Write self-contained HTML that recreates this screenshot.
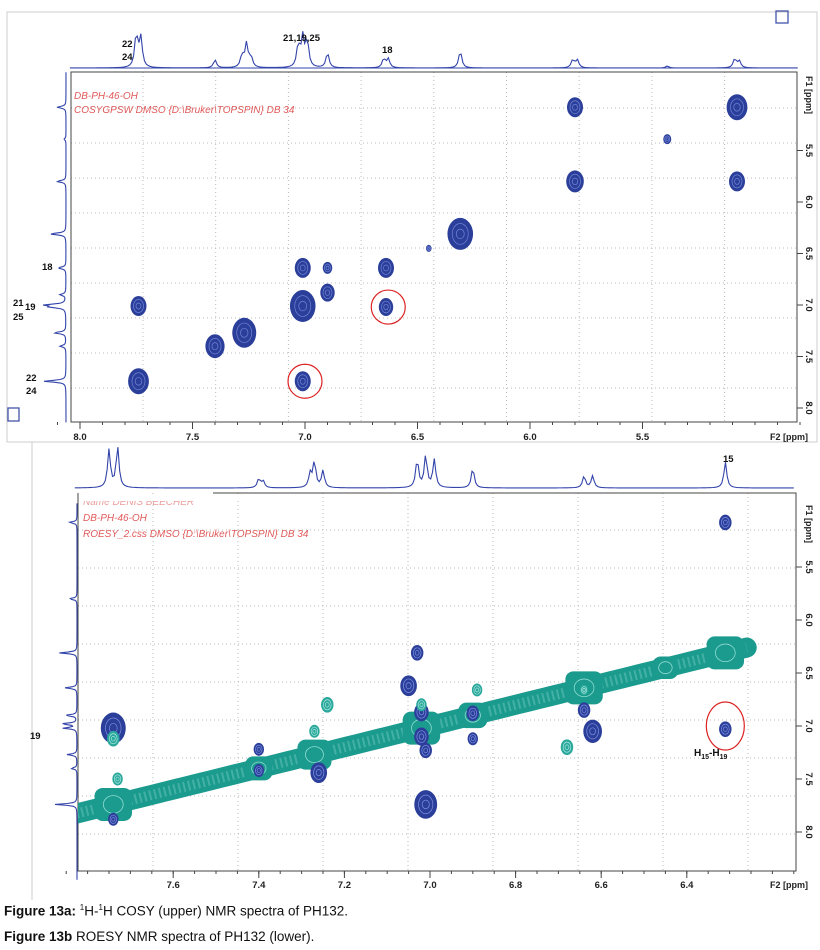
<!DOCTYPE html>
<html><head><meta charset="utf-8"><style>
body{margin:0;background:#fff;width:820px;height:950px;overflow:hidden;font-family:"Liberation Sans",sans-serif}
svg{position:absolute;left:0;top:0}
.cap{position:absolute;left:4px;font-size:13.5px;color:#111;white-space:nowrap}
</style></head><body>
<svg id="s" width="820" height="950" xmlns="http://www.w3.org/2000/svg">
<defs><clipPath id="rc"><rect x="78" y="493" width="718" height="378"/></clipPath></defs>
<rect x="7" y="12" width="810" height="430" fill="none" stroke="#ccc"/>
<line x1="32" y1="442" x2="32" y2="900" stroke="#ccc"/>
<rect x="776" y="11" width="12" height="12" fill="none" stroke="#4455aa" stroke-width="1.3"/>
<rect x="8" y="408" width="11" height="13" fill="none" stroke="#4455aa" stroke-width="1.3"/>
<g id="g"></g>
</svg>
<div class="cap" style="top:903px"><b>Figure 13a:</b> <sup style="font-size:8px">1</sup>H-<sup style="font-size:8px">1</sup>H COSY (upper) NMR spectra of PH132.</div>
<div class="cap" style="top:929px"><b>Figure 13b</b> ROESY NMR spectra of PH132 (lower).</div>
<script>
// ---- data ----
const cosyXTicks=[8.0,7.5,7.0,6.5,6.0,5.5];
const cosyYTicks=[5.5,6.0,6.5,7.0,7.5,8.0];
const cosyTopPpm=[7.75,7.73,7.40,7.28,7.26,7.24,7.03,7.01,6.99,6.90,6.65,6.63,6.31,5.81,5.79,5.39,5.09,5.07];
const cosyTopH=[33,30,8,12,24,10,22,30,26,15,9,9,17,8,8,2,9,7];
const cosyLeftPpm=[5.08,5.39,5.80,6.31,6.64,6.90,7.00,7.02,7.27,7.40,7.74];
const cosyLeftH=[9,2,9,16,8,6,20,14,12,6,22];
const cosyPeakF2=[5.80,5.08,5.39,5.80,5.08,6.31,6.45,7.01,6.90,6.64,7.01,6.90,6.64,7.74,7.40,7.27,7.74,7.01];
const cosyPeakF1=[5.08,5.08,5.39,5.80,5.80,6.31,6.45,6.64,6.64,6.64,7.01,6.88,7.02,7.01,7.40,7.27,7.74,7.74];
const cosyPeakSize=[1.0,1.3,0.5,1.1,1.0,1.6,0.35,1.0,0.6,1.0,1.6,0.9,0.9,1.0,1.2,1.5,1.3,1.0];
const roeXTicks=[7.6,7.4,7.2,7.0,6.8,6.6,6.4];
const roeYTicks=[5.5,6.0,6.5,7.0,7.5,8.0];
const roeTopPpm=[7.75,7.73,7.40,7.39,7.28,7.27,7.25,7.03,7.01,6.99,6.90,6.64,6.62,6.31];
const roeTopH=[38,41,9,7,14,26,17,28,32,28,20,12,12,26];
const roeLeftPpm=[5.08,5.80,6.31,6.64,6.90,6.98,7.02,7.27,7.40,7.74];
const roeLeftH=[8,8,18,12,12,16,14,10,6,22];
const roeDiag=[7.74,7.40,7.27,7.02,6.90,6.64,6.45,6.31];
const roeDiagSize=[1.1,0.8,1.0,1.1,0.85,1.1,0.75,1.1];
const roeBlueF2=[6.31,7.03,7.05,7.74,6.62,6.31,7.01,7.40,7.40,7.26,7.02,7.02,7.01,6.90,6.90,6.64,7.74];
const roeBlueF1=[5.08,6.31,6.62,7.02,7.05,7.03,7.74,7.22,7.42,7.44,6.87,7.10,7.23,6.88,7.12,6.85,7.88];
const roeBlueSize=[0.6,0.6,0.8,1.2,0.9,0.6,1.1,0.5,0.5,0.8,0.7,0.7,0.6,0.6,0.5,0.6,0.5];
const roeTealF2=[7.24,6.68,7.74,7.73,6.89,7.02,6.64,7.27];
const roeTealF1=[6.80,7.20,7.12,7.50,6.66,6.80,6.66,7.05];
const roeTealSize=[0.6,0.6,0.6,0.5,0.5,0.5,0.4,0.5];

// ---- scales ----
const cx=p=>80+(8-p)*225, cy=p=>305+(p-7)*103;
const rx=p=>430+(7-p)*428, ry=p=>726+(p-7)*106;
const NS='http://www.w3.org/2000/svg', G=document.getElementById('g');
function el(t,a,name,parent){const e=document.createElementNS(NS,t);for(const k in a)e.setAttribute(k,a[k]);


(parent||G).appendChild(e);return e;}
function txt(x,y,s,sz,col,extra,name){const e=el('text',Object.assign({x:x,y:y,'font-size':sz,fill:col,'font-family':'Liberation Sans, sans-serif'},extra||{}),name);e.textContent=s;return e;}
function spec(ppms,hs,mapP,base,from,to,vertical,w,name){let d='';for(let i=0;i<=400;i++){const p=from+(to-from)*i/400;let h=0;
for(let k=0;k<ppms.length;k++){const q=(p-ppms[k])/w;h+=hs[k]/(1+q*q);}
const a=mapP(p),b=base-h;d+=(i?'L':'M')+(vertical?b+','+a:a+','+b);}
el('path',{d:d,fill:'none',stroke:'#3344aa','stroke-width':1.1},name);}
function blob(x,y,s,col,light,name,parent){el('ellipse',{cx:x,cy:y,rx:8*s,ry:10*s,fill:col},name,parent);
el('ellipse',{cx:x,cy:y,rx:5*s,ry:6.5*s,fill:'none',stroke:light,'stroke-width':0.7},name+'-contour',parent);
el('ellipse',{cx:x,cy:y,rx:2.5*s,ry:3*s,fill:'none',stroke:light,'stroke-width':0.7},name+'-contour-inner',parent);}

// ---- COSY ----
for(let x=143;x<797;x+=72.7)el('line',{x1:x,y1:72,x2:x,y2:422,stroke:'#bbb','stroke-dasharray':'1,3'},'cosy-grid-v');
for(let y=108;y<422;y+=35)el('line',{x1:71,y1:y,x2:797,y2:y,stroke:'#bbb','stroke-dasharray':'1,3'},'cosy-grid-h');
el('rect',{x:71,y:72,width:726,height:350,fill:'none',stroke:'#444','stroke-width':1},'cosy-plot-frame');
cosyXTicks.forEach(t=>{el('line',{x1:cx(t),y1:422,x2:cx(t),y2:429,stroke:'#444'},'cosy-x-tick');txt(cx(t),440,t.toFixed(1),9.5,'#222',{'text-anchor':'middle','font-weight':'bold'},'cosy-x-tick-label');});
for(let p=8.1;p>4.8;p-=0.1)el('line',{x1:cx(p),y1:422,x2:cx(p),y2:425,stroke:'#444'},'cosy-x-minor-tick');
cosyYTicks.forEach(t=>{el('line',{x1:797,y1:cy(t),x2:803,y2:cy(t),stroke:'#444'},'cosy-y-tick');txt(806,cy(t),t.toFixed(1),9.5,'#222',{transform:`rotate(90 806 ${cy(t)})`,'text-anchor':'middle','font-weight':'bold'},'cosy-y-tick-label');});
txt(806,95,'F1 [ppm]',9,'#222',{transform:'rotate(90 806 95)','text-anchor':'middle','font-weight':'bold'},'cosy-y-axis-title');
txt(770,440,'F2 [ppm]',9,'#222',{'font-weight':'bold'},'cosy-x-axis-title');
spec(cosyTopPpm,cosyTopH,cx,68,8.045,4.81,false,0.008,'cosy-top-1d-spectrum');
el('line',{x1:71,y1:68,x2:797,y2:68,stroke:'#3344aa'},'cosy-top-baseline');
spec(cosyLeftPpm,cosyLeftH,cy,66,4.74,8.14,true,0.01,'cosy-left-1d-spectrum');
txt(122,47,'22',9.5,'#111',{'font-weight':'bold'},'label-22');txt(122,60,'24',9.5,'#111',{'font-weight':'bold'},'label-24');
txt(283,41,'21,19,25',9.5,'#111',{'font-weight':'bold'},'label-21-19-25');txt(382,53,'18',9.5,'#111',{'font-weight':'bold'},'label-18');
txt(42,270,'18',9.5,'#111',{'font-weight':'bold'},'left-label-18');txt(13,306,'21',9.5,'#111',{'font-weight':'bold'},'left-label-21');
txt(25,310,'19',9.5,'#111',{'font-weight':'bold'},'left-label-19');txt(13,320,'25',9.5,'#111',{'font-weight':'bold'},'left-label-25');
txt(26,381,'22',9.5,'#111',{'font-weight':'bold'},'left-label-22');txt(26,394,'24',9.5,'#111',{'font-weight':'bold'},'left-label-24');
txt(74,99,'DB-PH-46-OH',10,'#e05a5a',{'font-style':'italic'},'cosy-sample-name');
txt(74,113,'COSYGPSW DMSO {D:\\Bruker\\TOPSPIN} DB 34',10,'#e05a5a',{'font-style':'italic'},'cosy-experiment-info');
cosyPeakF2.forEach((f2,i)=>blob(cx(f2),cy(cosyPeakF1[i]),cosyPeakSize[i],'#2b3f9a','#6f84d6','cosy-cross-peak'));
el('ellipse',{cx:cx(6.63),cy:cy(7.02),rx:17,ry:17,fill:'none',stroke:'#dd2222','stroke-width':1.2},'cosy-highlight-circle-1');
el('ellipse',{cx:cx(7.0),cy:cy(7.74),rx:17,ry:17,fill:'none',stroke:'#dd2222','stroke-width':1.2},'cosy-highlight-circle-2');

// ---- ROESY ----
for(let x=153;x<796;x+=85)el('line',{x1:x,y1:493,x2:x,y2:871,stroke:'#bbb','stroke-dasharray':'1,3'},'roesy-grid-v');
for(let y=530;y<871;y+=38)el('line',{x1:78,y1:y,x2:796,y2:y,stroke:'#bbb','stroke-dasharray':'1,3'},'roesy-grid-h');
el('path',{d:'M213,493H796V871H78V493',fill:'none',stroke:'#444'},'roesy-plot-frame');
roeXTicks.forEach(t=>{el('line',{x1:rx(t),y1:871,x2:rx(t),y2:878,stroke:'#444'},'roesy-x-tick');txt(rx(t),888,t.toFixed(1),9.5,'#222',{'text-anchor':'middle','font-weight':'bold'},'roesy-x-tick-label');});
for(let p=7.85;p>6.15;p-=0.05)el('line',{x1:rx(p),y1:871,x2:rx(p),y2:874,stroke:'#444'},'roesy-x-minor-tick');
roeYTicks.forEach(t=>{el('line',{x1:796,y1:ry(t),x2:802,y2:ry(t),stroke:'#444'},'roesy-y-tick');txt(806,ry(t),t.toFixed(1),9.5,'#222',{transform:`rotate(90 806 ${ry(t)})`,'text-anchor':'middle','font-weight':'bold'},'roesy-y-tick-label');});
txt(806,524,'F1 [ppm]',9,'#222',{transform:'rotate(90 806 524)','text-anchor':'middle','font-weight':'bold'},'roesy-y-axis-title');
txt(770,888,'F2 [ppm]',9,'#222',{'font-weight':'bold'},'roesy-x-axis-title');
spec(roeTopPpm,roeTopH,rx,488,7.83,6.15,false,0.004,'roesy-top-1d-spectrum');
spec(roeLeftPpm,roeLeftH,ry,77,4.9,8.45,true,0.008,'roesy-left-1d-spectrum');
txt(723,462,'15',9.5,'#111',{'font-weight':'bold'},'label-15');txt(30,739,'19',9.5,'#111',{'font-weight':'bold'},'left-label-19-roesy');
txt(83,505,'Name DENIS BEECHER',10,'#e05a5a',{'font-style':'italic',opacity:0.6},'roesy-name-cut');
el('rect',{x:80,y:495,width:200,height:6,fill:'#fff'},'roesy-text-mask');
txt(83,521,'DB-PH-46-OH',10,'#e05a5a',{'font-style':'italic'},'roesy-sample-name');
txt(83,537,'ROESY_2.css DMSO {D:\\Bruker\\TOPSPIN} DB 34',10,'#e05a5a',{'font-style':'italic'},'roesy-experiment-info');
const RG=el('g',{'clip-path':'url(#rc)'},'roesy-contour-layer');
let d='';for(let i=0;i<=60;i++){const p=7.86-(7.86-6.26)*i/60;d+=(i?'L':'M')+rx(p)+','+ry(p);}
el('path',{d:d,fill:'none',stroke:'#1b9a8e','stroke-width':20,'stroke-linecap':'round'},'roesy-diagonal-band',RG);
el('path',{d:d,fill:'none',stroke:'#5fc0b4','stroke-width':10,'stroke-dasharray':'2,3',opacity:0.6},'roesy-diagonal-contours',RG);
roeDiag.forEach((p,i)=>{const s=roeDiagSize[i];el('rect',{x:rx(p)-17*s,y:ry(p)-15*s,width:34*s,height:30*s,rx:8,fill:'#1b9a8e'},'roesy-diagonal-peak',RG);
el('ellipse',{cx:rx(p),cy:ry(p),rx:9*s,ry:8*s,fill:'none',stroke:'#8fdcd2','stroke-width':0.8},'roesy-diagonal-peak-contour',RG);});
roeBlueF2.forEach((f2,i)=>blob(rx(f2),ry(roeBlueF1[i]),roeBlueSize[i]*1.3,'#2b3f9a','#7c8fe0','roesy-negative-peak',RG));
roeTealF2.forEach((f2,i)=>blob(rx(f2),ry(roeTealF1[i]),roeTealSize[i]*1.3,'#2aa89b','#a8e6de','roesy-positive-peak',RG));
el('ellipse',{cx:rx(6.31),cy:ry(7.0),rx:19,ry:24,fill:'none',stroke:'#dd2222','stroke-width':1.2},'roesy-highlight-circle');
const lb=txt(694,756,'',10,'#111',{'font-weight':'bold'},'label-h15-h19');
lb.innerHTML='H<tspan font-size="7" dy="3">15</tspan><tspan dy="-3">-H</tspan><tspan font-size="7" dy="3">19</tspan>';
</script>
</body></html>
